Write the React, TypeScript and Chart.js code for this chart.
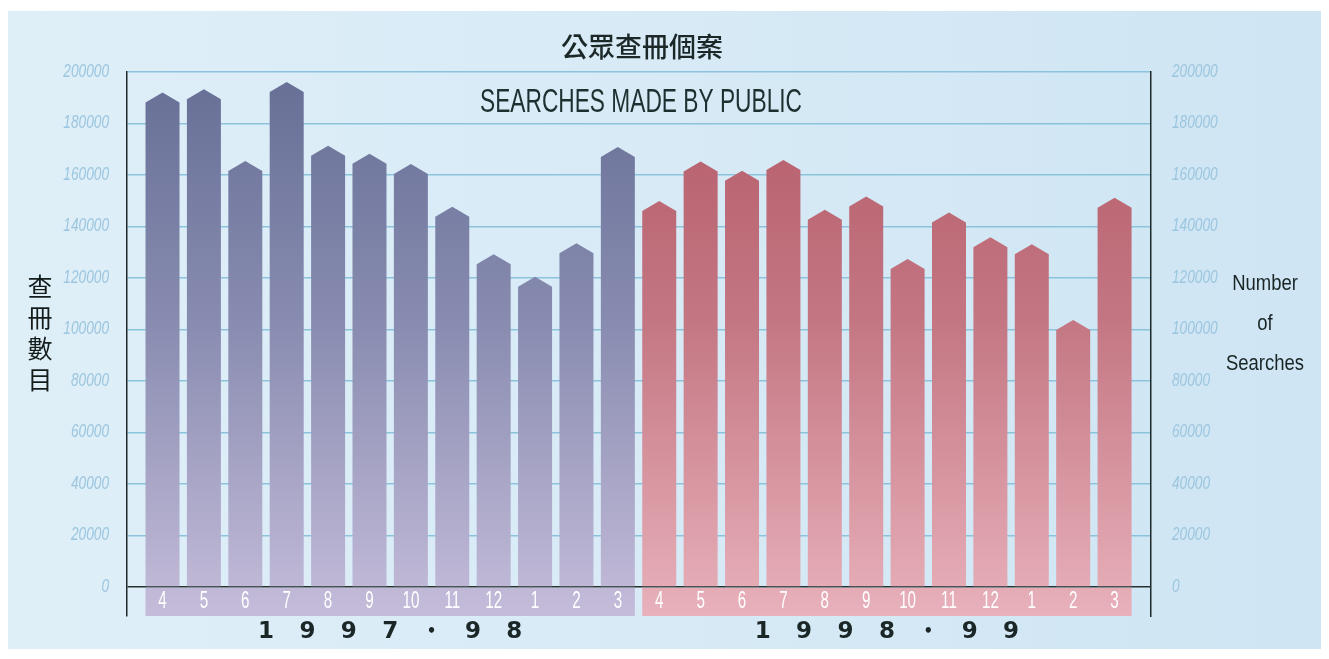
import { useEffect, useRef } from "react";
import { Chart, registerables } from "chart.js";

Chart.register(...registerables);

// ---- data ----
const monthLabels = ["4", "5", "6", "7", "8", "9", "10", "11", "12", "1", "2", "3"];
const periodLabels = ["1997-98", "1998-99"];
const searches1997_98 = [192000, 193300, 165400, 196100, 171400, 168200, 164300, 147700, 129200, 120500, 133500, 170900];
const searches1998_99 = [149900, 165200, 161600, 165800, 146500, 151600, 127400, 145400, 135800, 133100, 103700, 151200];
const yTickValues = [0, 20000, 40000, 60000, 80000, 100000, 120000, 140000, 160000, 180000, 200000];
const titleZh = "公眾查冊個案";
const titleEn = "SEARCHES MADE BY PUBLIC";
const leftAxisTitle = "查冊數目";
const rightAxisTitle = ["Number", "of", "Searches"];

const SANS = "'Liberation Sans', Arial, sans-serif";
const CJK = "'Noto Sans CJK TC', 'Noto Sans CJK SC', sans-serif";

const blueStops: [number, string][] = [
  [0, "#676f96"],
  [0.45, "#878baf"],
  [1, "#c5bcda"],
];
const pinkStops: [number, string][] = [
  [0, "#b55a68"],
  [0.45, "#c37682"],
  [1, "#e8b1bb"],
];

function makeGradient(chart: any, stops: [number, string][]) {
  const { ctx, chartArea } = chart;
  const g = ctx.createLinearGradient(0, chartArea.top, 0, chartArea.bottom);
  stops.forEach(([o, c]) => g.addColorStop(o, c));
  return g;
}

function condensedText(ctx: any, text: string, x: number, y: number, sx: number) {
  ctx.save();
  ctx.translate(x, y);
  ctx.scale(sx, 1);
  ctx.fillText(text, 0, 0);
  ctx.restore();
}

const housePlugin = {
  id: "houseBars",
  beforeDatasetsDraw(chart: any) {
    const { ctx, chartArea, scales } = chart;
    const y0 = scales.y.getPixelForValue(0);
    chart.data.datasets.forEach((ds: any, i: number) => {
      const meta = chart.getDatasetMeta(i);
      const els = meta.data;
      if (!els.length) return;
      ctx.save();
      ctx.fillStyle = makeGradient(chart, ds.gradientStops);
      const first = els[0];
      const last = els[els.length - 1];
      const left = first.x - first.width / 2;
      const right = last.x + last.width / 2;
      ctx.fillRect(left, y0 + 1, right - left, chartArea.bottom - y0 - 1);
      const cap = 10;
      els.forEach((el: any) => {
        const { x, y, base, width } = el.getProps(["x", "y", "base", "width"], true);
        ctx.beginPath();
        ctx.moveTo(x - width / 2, base);
        ctx.lineTo(x - width / 2, y + cap);
        ctx.lineTo(x, y);
        ctx.lineTo(x + width / 2, y + cap);
        ctx.lineTo(x + width / 2, base);
        ctx.closePath();
        ctx.fill();
      });
      ctx.restore();
    });
  },
  afterDraw(chart: any) {
    const { ctx, chartArea, scales } = chart;
    const xs = scales.x;
    ctx.save();
    ctx.textBaseline = "middle";

    // y tick labels (condensed italic)
    ctx.fillStyle = "#9cc6df";
    ctx.font = `italic 18px ${SANS}`;
    yTickValues.forEach((v) => {
      const y = scales.y.getPixelForValue(v);
      const t = String(v);
      const w = ctx.measureText(t).width * 0.76;
      ctx.textAlign = "left";
      condensedText(ctx, t, chartArea.left - 18 - w, y, 0.76);
      condensedText(ctx, t, chartArea.right + 21, y, 0.76);
    });

    ctx.textAlign = "center";
    // month labels inside band
    ctx.fillStyle = "#ffffff";
    ctx.font = `23px ${SANS}`;
    chart.data.datasets.forEach((_ds: any, i: number) => {
      const meta = chart.getDatasetMeta(i);
      meta.data.forEach((el: any, j: number) => {
        condensedText(ctx, monthLabels[j], el.x, chartArea.bottom - 14, 0.66);
      });
    });

    // period labels
    ctx.fillStyle = "#1b2626";
    periodLabels.forEach((p, pi) => {
      const start = pi * monthLabels.length + 2.5;
      p.split("").forEach((ch, k) => {
        const x = xs.getPixelForValue(start + k);
        if (ch === "-") {
          ctx.font = `bold 15px 'DejaVu Sans', sans-serif`;
          ctx.fillText("•", x, chartArea.bottom + 16);
        } else {
          ctx.font = `bold 23px 'DejaVu Sans', sans-serif`;
          ctx.fillText(ch, x, chartArea.bottom + 16);
        }
      });
    });

    // Chinese title
    ctx.fillStyle = "#1c2828";
    ctx.font = `500 27px ${CJK}`;
    ctx.fillText(titleZh, 634, 36);

    // English title (condensed to fit)
    ctx.fillStyle = "#1d3030";
    ctx.font = `34px ${SANS}`;
    const w = ctx.measureText(titleEn).width;
    condensedText(ctx, titleEn, 633, 92, 322 / w);

    // left axis title (vertical)
    ctx.fillStyle = "#141c1c";
    ctx.font = `400 25px ${CJK}`;
    leftAxisTitle.split("").forEach((ch, k) => {
      ctx.fillText(ch, 32, 275 + k * 31);
    });

    // right axis title
    ctx.fillStyle = "#1a2626";
    ctx.font = `22px ${SANS}`;
    rightAxisTitle.forEach((t, k) => {
      condensedText(ctx, t, 1257, 273 + k * 40, 0.84);
    });
    ctx.restore();
  },
};

export default function App() {
  const canvasRef = useRef<HTMLCanvasElement | null>(null);

  useEffect(() => {
    if (!canvasRef.current) return;
    const n = monthLabels.length;
    const chart = new Chart(canvasRef.current, {
      type: "bar",
      data: {
        datasets: [
          {
            label: periodLabels[0],
            data: searches1997_98.map((v, i) => ({ x: i, y: v })),
            backgroundColor: "rgba(0,0,0,0)",
            borderWidth: 0,
            barThickness: 34,
            grouped: false,
            gradientStops: blueStops,
          } as any,
          {
            label: periodLabels[1],
            data: searches1998_99.map((v, i) => ({ x: i + n, y: v })),
            backgroundColor: "rgba(0,0,0,0)",
            borderWidth: 0,
            barThickness: 34,
            grouped: false,
            gradientStops: pinkStops,
          } as any,
        ],
      },
      options: {
        responsive: false,
        animation: false,
        events: [],
        layout: { padding: { top: 61, bottom: 33, left: 0, right: 0 } },
        plugins: {
          legend: { display: false },
          tooltip: { enabled: false },
          title: { display: false },
        },
        scales: {
          x: {
            type: "linear",
            display: false,
            offset: false,
            min: -0.858,
            max: 23.88,
          },
          y: {
            type: "linear",
            position: "left",
            min: -11300,
            max: 200000,
            afterBuildTicks: (scale: any) => {
              scale.ticks = yTickValues.map((v) => ({ value: v }));
            },
            afterFit: (scale: any) => {
              scale.width = 119;
            },
            grid: {
              drawTicks: false,
              color: (c: any) => (c.tick && c.tick.value === 0 ? "#263030" : "#8cc3dc"),
              lineWidth: 1.5,
            },
            border: { display: true, color: "#1f2929", width: 1.5 },
            ticks: { display: false },
          },
          y2: {
            type: "linear",
            position: "right",
            min: -11300,
            max: 200000,
            afterBuildTicks: (scale: any) => {
              scale.ticks = yTickValues.map((v) => ({ value: v }));
            },
            afterFit: (scale: any) => {
              scale.width = 170;
            },
            grid: { drawTicks: false, drawOnChartArea: false },
            border: { display: true, color: "#1f2929", width: 1.5 },
            ticks: { display: false },
          },
        },
      } as any,
      plugins: [housePlugin],
    });
    return () => chart.destroy();
  }, []);

  return (
    <div style={{ paddingTop: 3 }}>
      <div
        style={{
          width: 1313,
          height: 638,
          background: "linear-gradient(90deg, #dfeff8 0%, #d7eaf6 50%, #cfe5f3 100%)",
        }}
      >
        <canvas ref={canvasRef} width={1313} height={638} style={{ display: "block" }} />
      </div>
    </div>
  );
}
